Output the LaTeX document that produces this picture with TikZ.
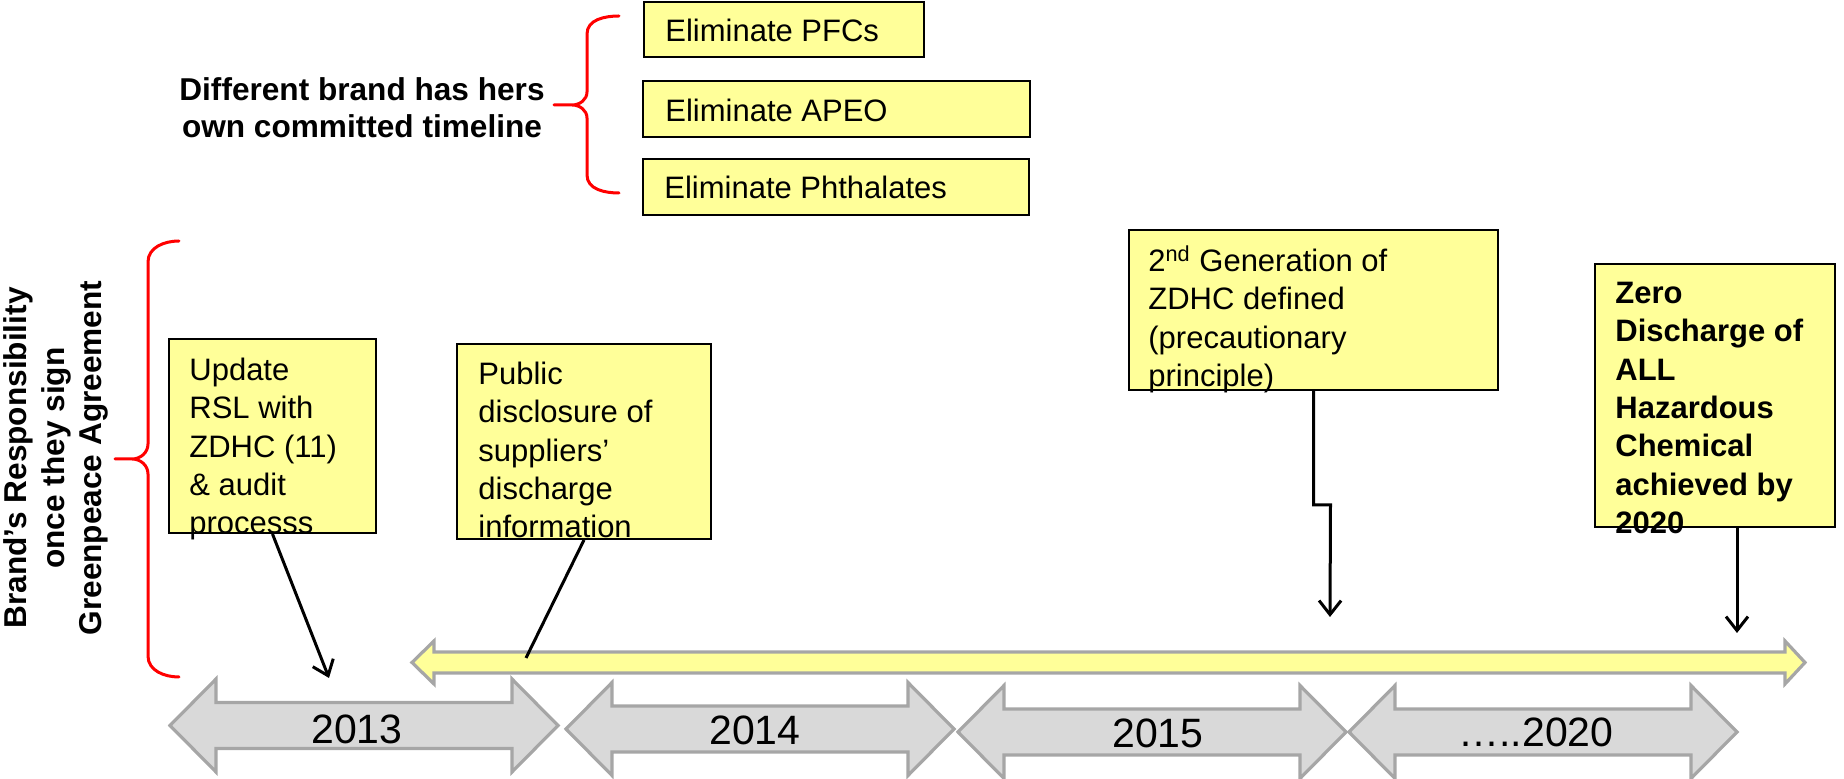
\documentclass[tikz,border=0pt]{standalone}
\usepackage{fontspec}
\setmainfont{Liberation Sans}
\usetikzlibrary{arrows.meta}
\definecolor{boxyellow}{HTML}{FFFF99}
\definecolor{arrgray}{HTML}{D9D9D9}
\definecolor{edgegray}{HTML}{A6A6A6}
\definecolor{bracered}{HTML}{FF0000}
\newcommand{\boxfont}{\fontsize{15.5}{19.15}\selectfont}
\newcommand{\labfont}{\bfseries\fontsize{15.8}{18.6}\selectfont}
\newcommand{\yearfont}{\fontsize{20.5}{24}\selectfont}
\begin{document}
\begin{tikzpicture}[x=0.5pt,y=-0.5pt,
  box/.style={draw=black, fill=boxyellow, line width=1pt, inner sep=0pt},
  boxtext/.style={inner sep=0pt, anchor=north west, align=left, font=\boxfont},
  linetext/.style={inner sep=0pt, anchor=base west, font=\boxfont},
  yeartext/.style={inner sep=0pt, anchor=base, font=\yearfont},
  brace/.style={draw=bracered, line width=1.5pt, line join=round, line cap=round},
  conn/.style={draw=black, line width=1.5pt},
  arrowconn/.style={conn, -{Straight Barb[length=7pt,width=11pt]}},
  grayarrow/.style={fill=arrgray, draw=edgegray, line width=1.6pt, line join=miter},
  yellowarrow/.style={fill=boxyellow, draw=edgegray, line width=1.6pt, line join=miter},
  yeararrow/.pic={\path[grayarrow] (0,0) -- (46,-46.5) -- (46,-23) -- (342,-23) -- (342,-46.5) -- (388,0) -- (342,46.5) -- (342,23) -- (46,23) -- (46,46.5) -- cycle;}
]
\useasboundingbox (0,0) rectangle (1844,779);

% ---------- top group ----------
\node[inner sep=0pt, anchor=north, align=center, font=\labfont] (brandlabel) at (362,74)
  {\strut Different brand has hers\\own committed timeline};
\path[brace] (619,16) to[out=180,in=90] (587,34) -- (587,92) to[out=-90,in=0] (572,105) -- (554,105)
  -- (572,105) to[out=0,in=90] (587,118) -- (587,175) to[out=-90,in=180] (619,193);

\node[box, minimum width=140pt, minimum height=27.5pt] (pfc) at (784,29.5) {};
\node[box, minimum width=193.5pt, minimum height=28pt] (apeo) at (836.5,109) {};
\node[box, minimum width=193pt, minimum height=28pt] (phth) at (836,187) {};
\node[linetext] (pfct) at (665,42) {Eliminate PFCs};
\node[linetext] (apeot) at (665,122) {Eliminate APEO};
\node[linetext] (phtht) at (664,199) {Eliminate Phthalates};

% ---------- left group ----------
\node[inner sep=0pt, rotate=90, align=center, font=\labfont] (resp) at (56,458)
  {Brand’s Responsibility\\once they sign\\Greenpeace Agreement};
\path[brace] (179,241) to[out=180,in=90] (148,262) -- (148,444) to[out=-90,in=0] (132,459) -- (115,459)
  -- (132,459) to[out=0,in=90] (148,474) -- (148,656) to[out=-90,in=180] (179,677);

% ---------- yellow bar ----------
\path[yellowarrow] (412,662.5) -- (434,641) -- (434,652) -- (1785,652) -- (1785,641) -- (1805,662.5)
  -- (1785,684) -- (1785,673) -- (434,673) -- (434,684) -- cycle;

% ---------- year arrows ----------
\pic at (170,725.5) {yeararrow};
\pic at (566,729) {yeararrow};
\pic at (958,732) {yeararrow};
\pic at (1349,732) {yeararrow};
\node[yeartext] (y13) at (357,744) {2013};
\node[yeartext] (y14) at (755,745) {2014};
\node[yeartext] (y15) at (1158,748) {2015};
\node[yeartext] (y20) at (1536,747) {…..2020};

% ---------- milestone boxes ----------
\node[box, minimum width=103.5pt, minimum height=97pt] (upd) at (272.5,436) {};
\node[box, minimum width=127pt, minimum height=97.5pt] (pub) at (584,441.5) {};
\node[box, minimum width=184.5pt, minimum height=80pt] (gen) at (1313.5,310) {};
\node[box, minimum width=120pt, minimum height=131.5pt] (zero) at (1715,395.5) {};

\node[boxtext] (updt) at (189,353.4) {\strut Update\\RSL with\\ZDHC (11)\\\& audit\\processs};
\node[boxtext] (pubt) at (478,357.4) {\strut Public\\disclosure of\\suppliers’\\discharge\\information};
\node[boxtext] (gent) at (1148,244.4) {\strut 2\textsuperscript{nd} Generation of\\ZDHC defined\\(precautionary\\principle)};
\node[boxtext, font=\boxfont\bfseries] (zerot) at (1615,276.4) {\strut Zero\\Discharge of\\ALL\\Hazardous\\Chemical\\achieved by\\2020};

% ---------- connectors ----------
\coordinate (c1) at (329,678);
\coordinate (c2) at (526,658);
\coordinate (c3) at (1330,617);
\coordinate (c4) at (1737,633);
\draw[arrowconn] (upd.south) -- (c1);
\draw[conn] (pub.south) -- (c2);
\draw[arrowconn] (gen.south) -- ++(0,114) -- ++(17,0) -- (c3);
\draw[arrowconn] (zero.south -| c4) -- (c4);
\end{tikzpicture}
\end{document}
